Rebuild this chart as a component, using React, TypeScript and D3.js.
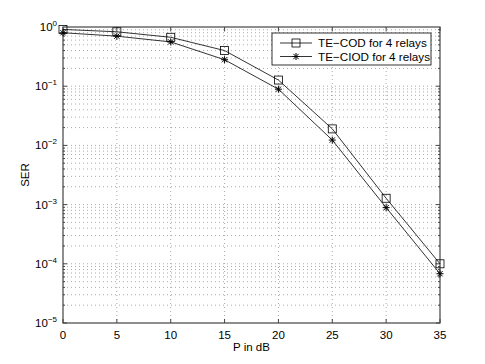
import { useRef, useEffect } from 'react';
import * as d3 from 'd3';

const powerDb = [0, 5, 10, 15, 20, 25, 30, 35];
const serCod = [0.91, 0.83, 0.67, 0.40, 0.127, 0.019, 1.28e-3, 1.0e-4];
const serCiod = [0.80, 0.70, 0.56, 0.28, 0.089, 0.0123, 8.9e-4, 6.8e-5];
const xTicks = [0, 5, 10, 15, 20, 25, 30, 35];
const yExponents = [0, -1, -2, -3, -4, -5];
const legendLabels = ['TE\u2212COD for 4 relays', 'TE\u2212CIOD for 4 relays'];

const FONT = 'Liberation Sans, Arial, Helvetica, sans-serif';

export default function App() {
  const svgRef = useRef<SVGSVGElement>(null);

  useEffect(() => {
    const width = 485;
    const height = 364;
    const margin = { top: 27, right: 45, bottom: 41, left: 63 };
    const innerWidth = width - margin.left - margin.right;
    const innerHeight = height - margin.top - margin.bottom;

    const root = d3.select(svgRef.current);
    root.selectAll('*').remove();
    root.attr('width', width).attr('height', height);
    root.append('rect').attr('width', width).attr('height', height).attr('fill', 'white');

    const svg = root.append('g').attr('transform', `translate(${margin.left},${margin.top})`);

    const x = d3.scaleLinear().domain([0, 35]).range([0, innerWidth]);
    const y = d3.scaleLog().domain([1e-5, 1]).range([innerHeight, 0]);

    // grid
    const minor: number[] = [];
    for (let e = -5; e < 0; e++) {
      for (let m = 1; m <= 9; m++) minor.push(m * Math.pow(10, e));
    }
    const grid = svg.append('g').attr('stroke', '#555').attr('stroke-width', 0.5)
      .attr('stroke-dasharray', '1,3');
    grid.selectAll('line.gy')
      .data(minor.filter(v => v > 1e-5))
      .enter().append('line')
      .attr('x1', 0).attr('x2', innerWidth)
      .attr('y1', d => y(d)).attr('y2', d => y(d));
    grid.selectAll('line.gx')
      .data(xTicks.slice(1, -1))
      .enter().append('line')
      .attr('y1', 0).attr('y2', innerHeight)
      .attr('x1', d => x(d)).attr('x2', d => x(d));

    // ticks (inward, all four sides)
    const ticks = svg.append('g').attr('stroke', '#444').attr('stroke-width', 1);
    xTicks.forEach(t => {
      ticks.append('line').attr('x1', x(t)).attr('x2', x(t)).attr('y1', innerHeight).attr('y2', innerHeight - 4);
      ticks.append('line').attr('x1', x(t)).attr('x2', x(t)).attr('y1', 0).attr('y2', 4);
    });
    minor.forEach(v => {
      const isMajor = Math.abs(Math.log10(v) - Math.round(Math.log10(v))) < 1e-9;
      const len = isMajor ? 4 : 2;
      ticks.append('line').attr('x1', 0).attr('x2', len).attr('y1', y(v)).attr('y2', y(v));
      ticks.append('line').attr('x1', innerWidth).attr('x2', innerWidth - len).attr('y1', y(v)).attr('y2', y(v));
    });

    // frame
    svg.append('rect').attr('width', innerWidth).attr('height', innerHeight)
      .attr('fill', 'none').attr('stroke', '#444').attr('stroke-width', 1.2);

    // tick labels
    svg.append('g').selectAll('text')
      .data(xTicks).enter().append('text')
      .attr('x', d => x(d)).attr('y', innerHeight + 16)
      .attr('text-anchor', 'middle').attr('font-family', FONT).attr('font-size', 11.5)
      .text(d => d);

    const yl = svg.append('g').attr('font-family', FONT);
    yExponents.forEach(e => {
      const t = yl.append('text').attr('x', -6).attr('y', y(Math.pow(10, e)) + 4)
        .attr('text-anchor', 'end').attr('font-size', 11.5);
      t.append('tspan').text('10');
      t.append('tspan').attr('dy', -5).attr('font-size', 8).text(e === 0 ? '0' : '\u2212' + Math.abs(e));
    });

    // axis labels
    root.append('text').attr('x', margin.left + innerWidth / 2).attr('y', 351)
      .attr('text-anchor', 'middle').attr('font-family', FONT).attr('font-size', 11.5)
      .text('P in dB');
    root.append('text')
      .attr('transform', `translate(29,${margin.top + innerHeight / 2}) rotate(-90)`)
      .attr('text-anchor', 'middle').attr('font-family', FONT).attr('font-size', 11.5)
      .text('SER');

    // lines
    const line = d3.line<number>().x((_, i) => x(powerDb[i])).y(d => y(d));
    [serCod, serCiod].forEach(s => {
      svg.append('path').datum(s).attr('fill', 'none').attr('stroke', 'black')
        .attr('stroke-width', 0.8).attr('d', line);
    });

    const square = (g: any, cx: number, cy: number) => {
      g.append('rect').attr('x', cx - 4).attr('y', cy - 4).attr('width', 8).attr('height', 8)
        .attr('fill', 'none').attr('stroke', 'black').attr('stroke-width', 0.8);
    };
    const star = (g: any, cx: number, cy: number) => {
      const r = 3.5;
      const d = `M${cx - r},${cy}L${cx + r},${cy}M${cx},${cy - r}L${cx},${cy + r}` +
        `M${cx - r * 0.75},${cy - r * 0.75}L${cx + r * 0.75},${cy + r * 0.75}` +
        `M${cx - r * 0.75},${cy + r * 0.75}L${cx + r * 0.75},${cy - r * 0.75}`;
      g.append('path').attr('d', d).attr('stroke', 'black').attr('stroke-width', 1);
    };

    const markers = svg.append('g');
    serCod.forEach((v, i) => square(markers, x(powerDb[i]), y(v)));
    serCiod.forEach((v, i) => star(markers, x(powerDb[i]), y(v)));

    // legend
    const lg = root.append('g').attr('transform', 'translate(272,33)');
    lg.append('rect').attr('width', 159).attr('height', 32)
      .attr('fill', 'white').attr('stroke', 'black').attr('stroke-width', 0.8);
    legendLabels.forEach((label, i) => {
      const ly = 10 + i * 13.5;
      lg.append('line').attr('x1', 8).attr('x2', 40).attr('y1', ly).attr('y2', ly)
        .attr('stroke', 'black').attr('stroke-width', 0.8);
      if (i === 0) square(lg, 24, ly);
      else star(lg, 24, ly);
      lg.append('text').attr('x', 46).attr('y', ly + 4).attr('font-family', FONT)
        .attr('font-size', 11.7).text(label);
    });
  }, []);

  return (
    <div style={{ position: 'fixed', left: 0, top: 0 }}>
      <svg ref={svgRef}></svg>
    </div>
  );
}
